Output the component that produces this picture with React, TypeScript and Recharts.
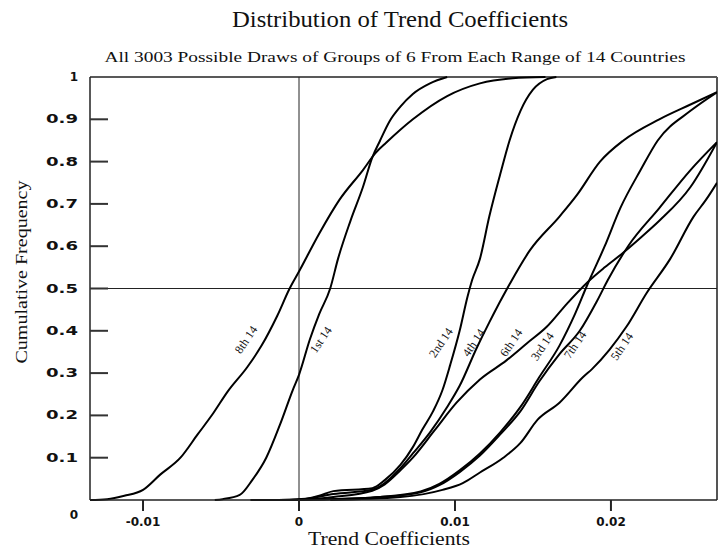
import React from "react";
import {
  LineChart,
  Line,
  XAxis,
  YAxis,
  ReferenceLine,
  ReferenceDot,
} from "recharts";

// curve data (x = trend coefficient, y = cumulative frequency)
const x8 = [-0.0134, -0.0123, -0.0112, -0.01, -0.0089, -0.0076, -0.0065, -0.0055, -0.0046, -0.0033, -0.0024, -0.0014, -0.0006, 0, 0.0013, 0.0026, 0.0041, 0.0049, 0.0056, 0.0073, 0.0095, 0.0116, 0.0137, 0.0158];
const y8 = [0, 0.002, 0.01, 0.024, 0.06, 0.1, 0.155, 0.205, 0.255, 0.315, 0.365, 0.435, 0.5, 0.54, 0.63, 0.71, 0.78, 0.82, 0.845, 0.9, 0.955, 0.985, 0.997, 1];

const x1 = [-0.0054, -0.0049, -0.0038, -0.003, -0.0021, -0.0012, -0.0004, 0, 0.0007, 0.0013, 0.002, 0.0025, 0.0033, 0.0041, 0.0047, 0.0052, 0.0058, 0.0065, 0.0073, 0.0084, 0.0095];
const y1 = [0, 0.002, 0.012, 0.047, 0.1, 0.18, 0.26, 0.296, 0.38, 0.44, 0.5, 0.57, 0.66, 0.74, 0.81, 0.85, 0.895, 0.93, 0.96, 0.985, 1];

const x2 = [-0.0012, 0.0001, 0.0013, 0.0022, 0.0047, 0.0055, 0.0065, 0.0073, 0.0079, 0.0086, 0.0092, 0.0097, 0.0103, 0.0108, 0.0111, 0.0116, 0.0122, 0.0129, 0.0135, 0.0142, 0.015, 0.0159, 0.0165];
const y2 = [0, 0.001, 0.01, 0.021, 0.028, 0.047, 0.083, 0.125, 0.166, 0.21, 0.26, 0.32, 0.4, 0.48, 0.52, 0.57, 0.67, 0.77, 0.85, 0.92, 0.97, 0.995, 1];

const x4 = [-0.0006, 0.0007, 0.0022, 0.0047, 0.0055, 0.0065, 0.0073, 0.0084, 0.0095, 0.0103, 0.0114, 0.0122, 0.0135, 0.0148, 0.0167, 0.0178, 0.0193, 0.0208, 0.0231, 0.0251, 0.0268];
const y4 = [0, 0.004, 0.014, 0.024, 0.04, 0.075, 0.11, 0.16, 0.22, 0.27, 0.36, 0.42, 0.51, 0.59, 0.67, 0.72, 0.8, 0.85, 0.9, 0.935, 0.964];

const x6 = [0.0001, 0.0022, 0.0047, 0.0055, 0.0065, 0.0073, 0.0087, 0.0101, 0.0116, 0.0133, 0.0146, 0.0159, 0.0172, 0.0185, 0.0196, 0.0208, 0.0219, 0.0231, 0.0251, 0.0268];
const y6 = [0, 0.007, 0.022, 0.037, 0.07, 0.1, 0.165, 0.23, 0.285, 0.33, 0.37, 0.41, 0.465, 0.515, 0.55, 0.585, 0.62, 0.66, 0.74, 0.846];

const x3 = [-0.0031, 0.002, 0.0052, 0.0078, 0.009, 0.0103, 0.0116, 0.0129, 0.0142, 0.0154, 0.0167, 0.0177, 0.0185, 0.0196, 0.0206, 0.0219, 0.023, 0.0251, 0.0268];
const y3 = [0, 0.002, 0.007, 0.02, 0.038, 0.07, 0.11, 0.16, 0.22, 0.29, 0.365, 0.44, 0.51, 0.6, 0.69, 0.78, 0.85, 0.92, 0.964];

const x7 = [-0.0031, 0.002, 0.0052, 0.0078, 0.009, 0.0103, 0.0116, 0.0129, 0.0142, 0.0154, 0.0167, 0.018, 0.0191, 0.0198, 0.0211, 0.0231, 0.0251, 0.0268];
const y7 = [0, 0.002, 0.007, 0.018, 0.035, 0.066, 0.105, 0.155, 0.21, 0.28, 0.345, 0.4, 0.47, 0.52, 0.6, 0.69, 0.78, 0.846];

const x5 = [0.002, 0.0065, 0.0092, 0.0105, 0.0116, 0.0131, 0.0142, 0.0153, 0.0167, 0.0182, 0.0188, 0.0199, 0.021, 0.0223, 0.0238, 0.0253, 0.0261, 0.0268];
const y5 = [0, 0.007, 0.024, 0.04, 0.065, 0.1, 0.135, 0.19, 0.23, 0.29, 0.31, 0.355, 0.41, 0.49, 0.57, 0.67, 0.71, 0.75];

const labelNames = ["8th 14", "1st 14", "2nd 14", "4th 14", "6th 14", "3rd 14", "7th 14", "5th 14"];
const labelX = [-0.0034, 0.0014, 0.0091, 0.0112, 0.0136, 0.0156, 0.0177, 0.0207];
const labelY = [0.379, 0.379, 0.372, 0.372, 0.372, 0.363, 0.367, 0.363];

const xTicks = [-0.01, 0, 0.01, 0.02];
const yTicks = [0, 0.1, 0.2, 0.3, 0.4, 0.5, 0.6, 0.7, 0.8, 0.9, 1];
const yInnerTicks = [0.1, 0.2, 0.3, 0.4, 0.5, 0.6, 0.7, 0.8, 0.9];

const X_MIN = -0.0134;
const X_MAX = 0.0268;

const toPoints = (xs, ys) => xs.map((x, i) => ({ x, y: ys[i] }));

const curves = [
  toPoints(x8, y8),
  toPoints(x1, y1),
  toPoints(x2, y2),
  toPoints(x4, y4),
  toPoints(x6, y6),
  toPoints(x3, y3),
  toPoints(x7, y7),
  toPoints(x5, y5),
];

const tickFont = "'DejaVu Sans', sans-serif";
const serif = "'Liberation Serif', 'Times New Roman', serif";

const YTick = (props) => {
  const x = Number(props.x);
  const y = Number(props.y);
  const v = props.payload.value;
  const end = v === 0 || v === 1;
  const text = end ? String(v) : v.toFixed(1);
  return (
    <text
      x={x}
      y={v === 0 ? y + 15 : y}
      dy={4}
      textAnchor="end"
      fontFamily={tickFont}
      fontWeight="bold"
      fontSize={12}
      fill="#111"
      {...(end ? {} : { textLength: 32, lengthAdjust: "spacingAndGlyphs" })}
    >
      {text}
    </text>
  );
};

const XTick = (props) => {
  const x = Number(props.x);
  const y = Number(props.y);
  const v = props.payload.value;
  const text = v === 0 ? "0" : v.toFixed(2);
  return (
    <text
      x={x}
      y={y}
      dy={11}
      textAnchor="middle"
      fontFamily={tickFont}
      fontWeight="bold"
      fontSize={12}
      fill="#111"
    >
      {text}
    </text>
  );
};

// inward tick mark on the left frame, drawn as a thin filled bar
const innerTick = (p) => (
  <rect x={Number(p.cx)} y={Number(p.cy) - 1} width={18} height={2} fill="#333" />
);

const curveLabel = (name) => (p) => (
  <text
    x={p.cx}
    y={p.cy}
    transform={`rotate(-56 ${p.cx} ${p.cy})`}
    textAnchor="middle"
    dominantBaseline="central"
    fontFamily={serif}
    fontSize={12}
    fill="#111"
  >
    {name}
  </text>
);

export default function App() {
  return (
    <div style={{ position: "relative", width: 718, height: 550, background: "#fff" }}>
      <style>{"body{margin:0}"}</style>
      <LineChart
        width={718}
        height={550}
        margin={{ top: 77, right: 1, bottom: 0, left: 0 }}
      >
        <XAxis
          dataKey="x"
          type="number"
          domain={[X_MIN, X_MAX]}
          ticks={xTicks}
          allowDataOverflow
          height={50}
          tickSize={11}
          tickMargin={4}
          axisLine={{ stroke: "#222", strokeWidth: 1.5 }}
          tickLine={{ stroke: "#222", strokeWidth: 2 }}
          tick={XTick}
        />
        <YAxis
          dataKey="y"
          type="number"
          domain={[0, 1]}
          ticks={yTicks}
          width={90}
          tickSize={0}
          tickMargin={12}
          axisLine={{ stroke: "#222", strokeWidth: 1.5 }}
          tickLine={false}
          tick={YTick}
        />
        <ReferenceLine y={1} stroke="#222" strokeWidth={1.5} />
        <ReferenceLine x={X_MAX} stroke="#555" strokeWidth={2} />
        <ReferenceLine x={0} stroke="#222" strokeWidth={1} />
        <ReferenceLine y={0.5} stroke="#222" strokeWidth={1} />
        {yInnerTicks.map((v) => (
          <ReferenceDot
            key={`yt${v}`}
            x={X_MIN}
            y={v}
            r={0}
            ifOverflow="visible"
            shape={innerTick}
          />
        ))}
        {curves.map((d, i) => (
          <Line
            key={labelNames[i]}
            data={d}
            dataKey="y"
            type="monotone"
            stroke="#000"
            strokeWidth={2}
            dot={false}
            activeDot={false}
            isAnimationActive={false}
          />
        ))}
        {labelNames.map((name, i) => (
          <ReferenceDot
            key={name}
            x={labelX[i]}
            y={labelY[i]}
            r={0}
            ifOverflow="visible"
            shape={curveLabel(name)}
          />
        ))}
      </LineChart>
      <svg
        width={718}
        height={550}
        style={{ position: "absolute", left: 0, top: 0, pointerEvents: "none" }}
      >
        <text x={400} y={27} textAnchor="middle" fontFamily={serif} fontSize={24} fill="#111" textLength={336} lengthAdjust="spacingAndGlyphs">
          Distribution of Trend Coefficients
        </text>
        <text x={395} y={62} textAnchor="middle" fontFamily={serif} fontSize={15} fill="#111" textLength={581} lengthAdjust="spacingAndGlyphs">
          All 3003 Possible Draws of Groups of 6 From Each Range of 14 Countries
        </text>
        <text x={389} y={545} textAnchor="middle" fontFamily={serif} fontSize={18} fill="#111" textLength={162} lengthAdjust="spacingAndGlyphs">
          Trend Coefficients
        </text>
        <text
          x={27}
          y={272}
          transform="rotate(-90 27 272)"
          textAnchor="middle"
          fontFamily={serif}
          fontSize={16}
          fill="#111"
          textLength={183}
          lengthAdjust="spacingAndGlyphs"
        >
          Cumulative Frequency
        </text>
      </svg>
    </div>
  );
}
